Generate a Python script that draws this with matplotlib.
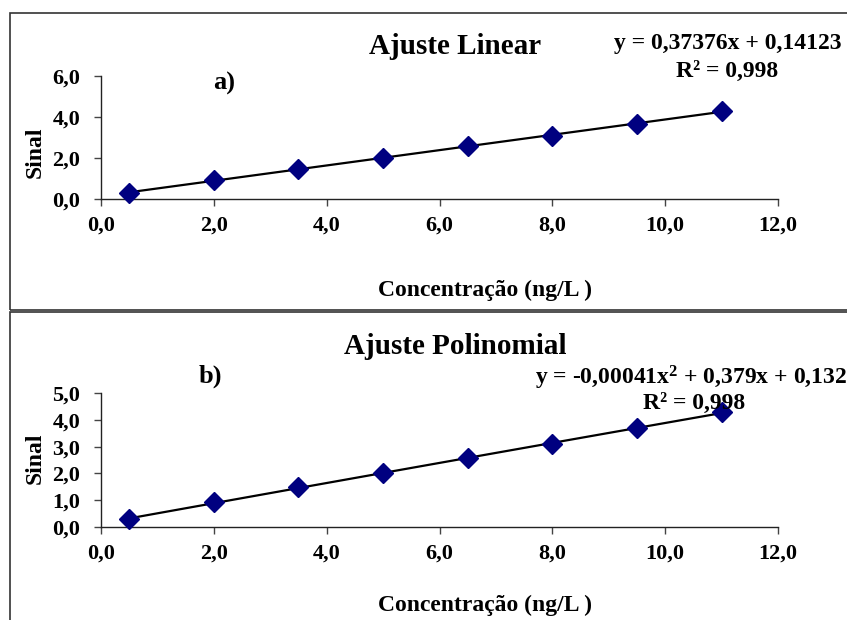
import matplotlib.pyplot as plt
from matplotlib.patches import Rectangle
import numpy as np

# calibration data
conc = [0.5, 2.0, 3.5, 5.0, 6.5, 8.0, 9.5, 11.0]
sinal = [0.28, 0.92, 1.48, 2.02, 2.58, 3.08, 3.68, 4.28]

lin_coef = [0.37376, 0.14123]
poly_coef = [-0.00041, 0.379, 0.132]

x_ticks = [0, 2, 4, 6, 8, 10, 12]
y_ticks_a = [0, 2, 4, 6]
y_ticks_b = [0, 1, 2, 3, 4, 5]

plt.rcParams['font.family'] = ['Liberation Serif', 'DejaVu Serif']
plt.rcParams['font.weight'] = 'bold'
plt.rcParams['mathtext.fontset'] = 'custom'
plt.rcParams['mathtext.rm'] = 'Liberation Serif:bold'
plt.rcParams['mathtext.it'] = 'Liberation Serif:bold'
plt.rcParams['mathtext.bf'] = 'Liberation Serif:bold'

W, H = 847, 620
fig = plt.figure(figsize=(W / 100, H / 100), dpi=100)

TICK_FS = 16
LABEL_FS = 17
EQ_FS = 17
TITLE_FS = 21


def fx(px):
    return px / W


def fy(py):
    return 1 - py / H


def comma(v):
    return f"{v:.1f}".replace('.', ',')


# panel frames
fig.patches.append(Rectangle((fx(10), fy(310)), 1.0, fy(13) - fy(310),
                             transform=fig.transFigure, fill=False,
                             edgecolor='#333333', lw=1.2))
fig.patches.append(Rectangle((fx(10), fy(640)), 1.0, fy(312) - fy(640),
                             transform=fig.transFigure, fill=False,
                             edgecolor='#333333', lw=1.2))


def setup_axes(ax, yticks):
    for s in ['top', 'right']:
        ax.spines[s].set_visible(False)
    for s in ['left', 'bottom']:
        ax.spines[s].set_color('#222222')
        ax.spines[s].set_linewidth(1.0)
    ax.set_xlim(0, 12)
    ax.set_ylim(yticks[0], yticks[-1])
    ax.set_xticks(x_ticks)
    ax.set_xticklabels([comma(v) for v in x_ticks], fontsize=TICK_FS, fontweight='bold')
    ax.set_yticks(yticks)
    ax.set_yticklabels([comma(v) for v in yticks], fontsize=TICK_FS, fontweight='bold')
    ax.tick_params(direction='out', length=5, width=1, color='#444444')
    ax.tick_params(axis='x', pad=7)
    ax.tick_params(axis='y', pad=10)
    ax.patch.set_alpha(0)


xx = np.array([conc[0], conc[-1]])

# a) linear fit
ax1 = fig.add_axes([fx(101), fy(199), fx(778) - fx(101), fy(76) - fy(199)])
setup_axes(ax1, y_ticks_a)
ax1.plot(xx, np.polyval(lin_coef, xx), color='black', lw=1.6, zorder=2)
ax1.plot(conc, sinal, 'D', color='#000080', markersize=10, zorder=3, clip_on=False)
fig.text(fx(35), fy(152), 'Sinal', fontsize=LABEL_FS, fontweight='bold', rotation=90,
         ha='center', va='center')
fig.text(fx(485), fy(290), 'Concentração (ng/L )', fontsize=LABEL_FS, fontweight='bold',
         ha='center', va='center')
fig.text(fx(455), fy(47), 'Ajuste Linear', fontsize=TITLE_FS, fontweight='bold',
         ha='center', va='center')
fig.text(fx(224), fy(83), 'a)', fontsize=19, fontweight='bold', ha='center', va='center')
fig.text(fx(728), fy(43), 'y = 0,37376x + 0,14123', fontsize=EQ_FS, fontweight='bold',
         ha='center', va='center')
fig.text(fx(727), fy(71), 'R² = 0,998', fontsize=EQ_FS, fontweight='bold',
         ha='center', va='center')

# b) polynomial fit
ax2 = fig.add_axes([fx(101), fy(527), fx(778) - fx(101), fy(393) - fy(527)])
setup_axes(ax2, y_ticks_b)
xs = np.linspace(conc[0], conc[-1], 100)
ax2.plot(xs, np.polyval(poly_coef, xs), color='black', lw=1.6, zorder=2)
ax2.plot(conc, sinal, 'D', color='#000080', markersize=10, zorder=3, clip_on=False)
fig.text(fx(35), fy(458), 'Sinal', fontsize=LABEL_FS, fontweight='bold', rotation=90,
         ha='center', va='center')
fig.text(fx(485), fy(605), 'Concentração (ng/L )', fontsize=LABEL_FS, fontweight='bold',
         ha='center', va='center')
fig.text(fx(455), fy(346), 'Ajuste Polinomial', fontsize=TITLE_FS, fontweight='bold',
         ha='center', va='center')
fig.text(fx(210), fy(376), 'b)', fontsize=19, fontweight='bold', ha='center', va='center')
fig.text(fx(535), fy(378), 'y = -0,00041x$^{2}$ + 0,379x + 0,132', fontsize=EQ_FS,
         fontweight='bold', ha='left', va='center')
fig.text(fx(694), fy(403), 'R² = 0,998', fontsize=EQ_FS, fontweight='bold',
         ha='center', va='center')

fig.savefig('out.png', dpi=100)
